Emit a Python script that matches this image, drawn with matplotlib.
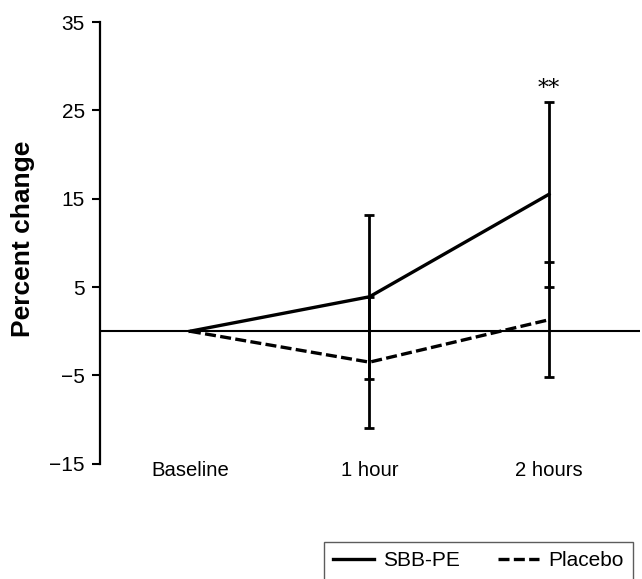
import matplotlib
matplotlib.use("Agg")
import matplotlib.pyplot as plt

plt.rcParams['font.family'] = ['Liberation Sans', 'DejaVu Sans']

# data
timepoints = ['Baseline', '1 hour', '2 hours']
sbb_mean = [0, 3.9, 15.5]
sbb_err = [0, 9.3, 10.5]
placebo_mean = [0, -3.5, 1.3]
placebo_err = [0, 7.4, 6.5]
yticks = [-15, -5, 5, 15, 25, 35]

x = list(range(len(timepoints)))

fig = plt.figure(figsize=(6.42, 5.79), dpi=100)
ax = fig.add_axes([0.1558, 0.199, 0.841, 0.763])

ax.axhline(0, color='black', linewidth=1.5, zorder=1)

# error bars, drawn only where there is a spread
ax.errorbar(x[1:], sbb_mean[1:], yerr=sbb_err[1:], fmt='none', ecolor='black',
            elinewidth=2, capsize=3.5, capthick=2, zorder=2)
ax.errorbar(x[1:], placebo_mean[1:], yerr=placebo_err[1:], fmt='none', ecolor='black',
            elinewidth=2, capsize=3.5, capthick=2, zorder=2)

ax.plot(x, sbb_mean, color='black', linewidth=2.4, linestyle='solid',
        label='SBB-PE', zorder=3)
ax.plot(x, placebo_mean, color='black', linewidth=2.4, linestyle=(0, (3.3, 1.3)),
        label='Placebo', zorder=3)

ax.text(x[2], sbb_mean[2] + sbb_err[2] + 0.2, '**', ha='center', va='bottom',
        fontsize=16, family='DejaVu Serif')

ax.set_xlim(-0.501, 2.507)
ax.set_ylim(-15, 35)
ax.set_yticks(yticks)
ax.set_yticklabels([str(v).replace('-', '\u2212') for v in yticks], fontsize=15)
ax.set_xticks(x)
ax.set_xticklabels(timepoints, fontsize=14.6)
ax.tick_params(axis='x', length=0, pad=-2)
ax.tick_params(axis='y', direction='out', length=6, width=1.5, pad=5)

for s in ['top', 'right', 'bottom']:
    ax.spines[s].set_visible(False)
ax.spines['left'].set_linewidth(1.6)

ax.set_ylabel('Percent change', fontsize=19, fontweight='bold')
ax.yaxis.set_label_coords(-0.120, 0.509)

leg = fig.legend(loc='upper left', bbox_to_anchor=(0.5047, 0.0639), ncol=2,
                 fontsize=15, frameon=True, fancybox=False, edgecolor='#333333',
                 handlelength=1.97, columnspacing=1.8, borderpad=0.45,
                 handletextpad=0.43, borderaxespad=0)
leg.get_frame().set_linewidth(1.0)

fig.savefig('out.png', dpi=100)
